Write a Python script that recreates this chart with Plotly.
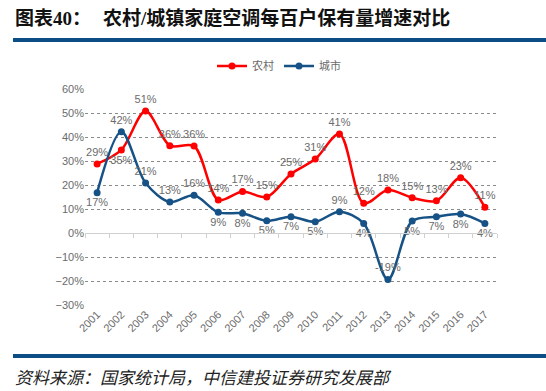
import plotly.graph_objects as go

years = [str(y) for y in range(2001, 2018)]
rural = [28.8, 34.6, 50.8, 36.4, 36.2, 13.8, 17.3, 15.0, 24.6, 30.8, 41.2, 12.4, 17.9, 14.7, 13.4, 23.0, 10.7]
urban = [16.8, 42.2, 20.8, 12.9, 15.7, 8.6, 8.2, 5.1, 6.8, 4.7, 8.9, 4.0, -19.4, 5.0, 6.8, 7.9, 4.0]
rural_pos = ["top center"] * 17
rural_pos[1] = "bottom center"
urban_pos = ["bottom center", "top center", "top center", "top center", "top center",
             "bottom center", "bottom center", "bottom center", "bottom center", "bottom center",
             "top center", "bottom center", "top center", "bottom center", "bottom center",
             "bottom center", "bottom center"]

RED = "#FF0000"
BLUE = "#175286"
GRAY = "#6b6b6b"
NAVY = "#0D4D85"

L, R, T, B = 85, 49, 89, 86
W, H = 546, 391
pw, ph = W - L - R, H - T - B

def px(x):
    return (x - L) / pw

def py(y):
    return (H - B - y) / ph

fig = go.Figure()
fig.add_trace(go.Scatter(
    x=years, y=rural, name="农村", mode="lines+markers+text",
    line=dict(color=RED, width=2.5, shape="spline", smoothing=0.9),
    marker=dict(color=RED, size=7),
    text=[f"{v:.0f}%" for v in rural], textposition=rural_pos,
    textfont=dict(size=11, color=GRAY, family="Liberation Sans, Arial"),
))
fig.add_trace(go.Scatter(
    x=years, y=urban, name="城市", mode="lines+markers+text",
    line=dict(color=BLUE, width=2.5, shape="spline", smoothing=0.9),
    marker=dict(color=BLUE, size=7),
    text=[f"{v:.0f}%" for v in urban], textposition=urban_pos,
    textfont=dict(size=11, color=GRAY, family="Liberation Sans, Arial"),
))
# invisible trace to host the zero-axis with tick marks
fig.add_trace(go.Scatter(x=years, y=[None] * len(years), xaxis="x2",
                         showlegend=False, hoverinfo="skip", mode="lines"))

fig.update_layout(
    width=W, height=H,
    margin=dict(l=L, r=R, t=T, b=B, autoexpand=False),
    paper_bgcolor="white", plot_bgcolor="white",
    font=dict(family="Liberation Sans, Arial, Noto Sans CJK SC", size=11, color=GRAY),
    showlegend=True,
    legend=dict(orientation="h", x=px(279), xanchor="center", y=py(66), yanchor="middle",
                font=dict(size=11, color=GRAY, family="Noto Sans CJK SC"),
                itemwidth=30, bgcolor="rgba(0,0,0,0)"),
    xaxis=dict(type="category", range=[-0.5, 16.5], tickangle=-45, showgrid=False,
               showline=False, ticks="", tickfont=dict(size=11, color=GRAY), automargin=False),
    xaxis2=dict(type="category", range=[-0.5, 16.5], overlaying="x", anchor="free",
                position=1/3, showline=True, linecolor="#d0d0d0", linewidth=1,
                ticks="outside", ticklen=4, tickcolor="#d0d0d0", tickson="boundaries",
                showticklabels=False, showgrid=False, automargin=False),
    yaxis=dict(range=[-30, 60], dtick=10, ticksuffix="%", showgrid=True,
               gridcolor="#8a8a8a", griddash="dot", gridwidth=1, automargin=False,
               zeroline=False, showline=False, tickfont=dict(size=11, color=GRAY)),
)

fig.add_annotation(text="<b>图表40：</b>", xref="paper", yref="paper", x=px(13), y=py(18),
                   xanchor="left", yanchor="middle", showarrow=False,
                   font=dict(size=19, color="#111111", family="Liberation Serif, Noto Sans CJK SC"))
fig.add_annotation(text="<b>农村/城镇家庭空调每百户保有量增速对比</b>", xref="paper", yref="paper",
                   x=px(101), y=py(18), xanchor="left", yanchor="middle", showarrow=False,
                   font=dict(size=19, color="#111111", family="Liberation Serif, Noto Sans CJK SC"))
fig.add_annotation(text="<i>资料来源：国家统计局，中信建投证券研究发展部</i>", xref="paper", yref="paper",
                   x=px(13), y=py(376), xanchor="left", yanchor="middle", showarrow=False,
                   font=dict(size=17, color="#222222", family="Noto Sans CJK SC"))

fig.add_shape(type="line", xref="paper", yref="paper", x0=px(13), x1=px(546),
              y0=py(40), y1=py(40), line=dict(color=NAVY, width=4))
fig.add_shape(type="line", xref="paper", yref="paper", x0=px(13), x1=px(546),
              y0=py(356), y1=py(356), line=dict(color=NAVY, width=4))

fig.write_html("out.html", config={"displayModeBar": False},
               post_script="document.body.style.margin='0';document.body.style.overflow='hidden';")
